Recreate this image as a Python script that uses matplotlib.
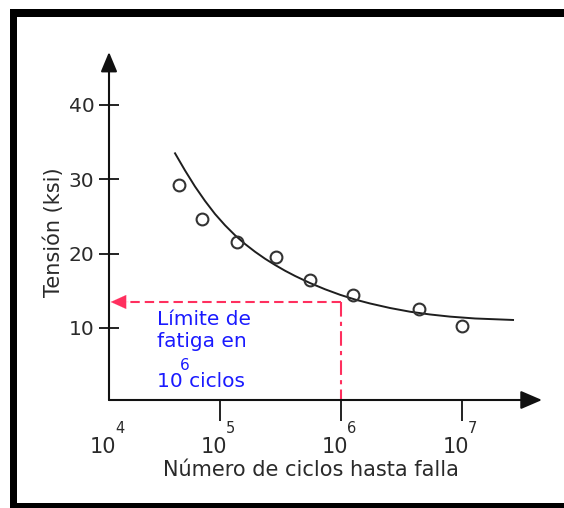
import matplotlib
matplotlib.use('Agg')
import matplotlib.pyplot as plt
from matplotlib.patches import Rectangle
from matplotlib.ticker import NullLocator, FixedLocator

# ---- data ----
test_cycles = [4.6e4, 7.1e4, 1.39e5, 2.88e5, 5.55e5, 1.25e6, 4.45e6, 9.95e6]
test_stress = [29.3, 24.7, 21.6, 19.6, 16.4, 14.5, 12.6, 10.3]

curve_cycles = [4.25e4, 5.14e4, 6.21e4, 7.52e4, 9.09e4, 1.10e5, 1.33e5,
                1.61e5, 1.95e5, 2.36e5, 2.85e5, 3.45e5, 4.17e5, 5.54e5,
                7.38e5, 9.81e5, 1.305e6, 1.736e6, 2.541e6, 3.717e6,
                5.439e6, 7.958e6, 1.281e7, 2.64e7]
curve_stress = [33.50, 31.19, 29.04, 27.09, 25.34, 23.82, 22.48,
                21.30, 20.25, 19.31, 18.48, 17.70, 17.00, 16.05,
                15.21, 14.47, 13.83, 13.30, 12.69, 12.19,
                11.82, 11.53, 11.28, 11.08]

fatigue_cycles = 1.0e6
fatigue_stress = 13.5

y_ticks = [10, 20, 30, 40]
x_tick_exps = [5, 6, 7]
x_label_exps = ['4', '5', '6', '7']

xlabel = 'Número de ciclos hasta falla'
ylabel = 'Tensión (ksi)'
note_lines = ['Límite de', 'fatiga en', '10 ciclos']
note_sup = '6'

# ---- figure ----
W, H = 564, 508
fig = plt.figure(figsize=(W / 100, H / 100), dpi=100)
fig.patch.set_facecolor('white')
fig.patch.set_linewidth(0)

ax = fig.add_axes([109 / W, (H - 400) / H, 433 / W, 348 / H])
ax.set_xscale('log')
ax.set_xlim(10 ** 4.0826, 10 ** 7.661)
ax.set_ylim(0.313, 47.13)
for s in ax.spines.values():
    s.set_visible(False)
ax.patch.set_alpha(0)

axis_col = '#111111'
text_col = '#2a2a2a'
red = '#ff2f5e'
blue = '#1a1aff'

# axes arrows
ax.annotate('', xy=(0, 1), xytext=(0, 0), xycoords='axes fraction',
            arrowprops=dict(arrowstyle='-|>,head_length=0.6,head_width=0.25',
                            color=axis_col, lw=1.5, mutation_scale=20,
                            shrinkA=0, shrinkB=0), annotation_clip=False)
ax.annotate('', xy=(1, 0), xytext=(0, 0), xycoords='axes fraction',
            arrowprops=dict(arrowstyle='-|>,head_length=0.65,head_width=0.28',
                            color=axis_col, lw=1.5, mutation_scale=20,
                            shrinkA=0, shrinkB=0), annotation_clip=False)

# ticks
ax.yaxis.set_major_locator(FixedLocator(y_ticks))
ax.tick_params(axis='y', direction='inout', length=13.7, width=1.3,
               color=axis_col, labelsize=14.5, labelcolor=text_col, pad=3.6)
ax.xaxis.set_major_locator(FixedLocator([10.0 ** e for e in x_tick_exps]))
ax.xaxis.set_minor_locator(NullLocator())
ax.tick_params(axis='x', direction='out', length=15, width=1.3,
               color=axis_col, labelbottom=False)

# x tick labels: "10" with raised exponent
for i, e in enumerate(x_label_exps):
    if i == 0:
        xy, coords = (0.0, 0.0), 'axes fraction'
    else:
        xy, coords = (10.0 ** int(e), 0.0), ('data', 'axes fraction')
    ax.annotate('10', xy=xy, xycoords=coords, xytext=(-4.7, -38.2),
                textcoords='offset points', ha='center', va='baseline',
                fontsize=15, color=text_col, annotation_clip=False)
    ax.annotate(e, xy=xy, xycoords=coords, xytext=(7.6, -24.1),
                textcoords='offset points', ha='center', va='baseline',
                fontsize=10.5, color=text_col, annotation_clip=False)

ax.set_xlabel(xlabel, fontsize=15, color=text_col)
ax.xaxis.set_label_coords(0.4665, -0.172)
ax.set_ylabel(ylabel, fontsize=15, color=text_col)
ax.yaxis.set_label_coords(-0.104, 0.481)

# fatigue limit guides
xmin = ax.get_xlim()[0]
ax.plot([fatigue_cycles, xmin * 1.15], [fatigue_stress, fatigue_stress],
        color=red, lw=1.5, linestyle=(0, (4.5, 2.4)), solid_capstyle='butt')
ax.plot([fatigue_cycles, fatigue_cycles], [fatigue_stress, ax.get_ylim()[0]],
        color=red, lw=1.5, linestyle=(0, (7, 2.5, 2, 2.5)))
ax.annotate('', xy=(0.004, fatigue_stress), xytext=(0.045, fatigue_stress),
            xycoords=('axes fraction', 'data'),
            arrowprops=dict(arrowstyle='-|>,head_length=0.55,head_width=0.25',
                            color=red, lw=0.1, mutation_scale=20,
                            shrinkA=0, shrinkB=0))

# fitted curve and test points
ax.plot(curve_cycles, curve_stress, color='#1e1e1e', lw=1.4, zorder=3,
        solid_joinstyle='round')
ax.plot(test_cycles, test_stress, 'o', ms=8.5, mfc='none', mec='#333333',
        mew=1.5, zorder=4)

# note text
note_y = [0.2155, 0.1532, 0.0382]
for line, yy in zip(note_lines, note_y):
    ax.text(0.1109, yy, line, transform=ax.transAxes, ha='left',
            va='baseline', fontsize=14.5, color=blue)
ax.text(0.176, 0.0862, note_sup, transform=ax.transAxes, ha='center',
        va='baseline', fontsize=11, color=blue)

# frame borders
fig.add_artist(Rectangle((10 / W, 0), 7 / W, (H - 9) / H,
                         transform=fig.transFigure, color='black', lw=0))
fig.add_artist(Rectangle((10 / W, (H - 17) / H), (W - 10) / W, 8 / H,
                         transform=fig.transFigure, color='black', lw=0))
fig.add_artist(Rectangle((10 / W, 0), (W - 10) / W, 5 / H,
                         transform=fig.transFigure, color='black', lw=0))

fig.savefig('out.png', dpi=100)
